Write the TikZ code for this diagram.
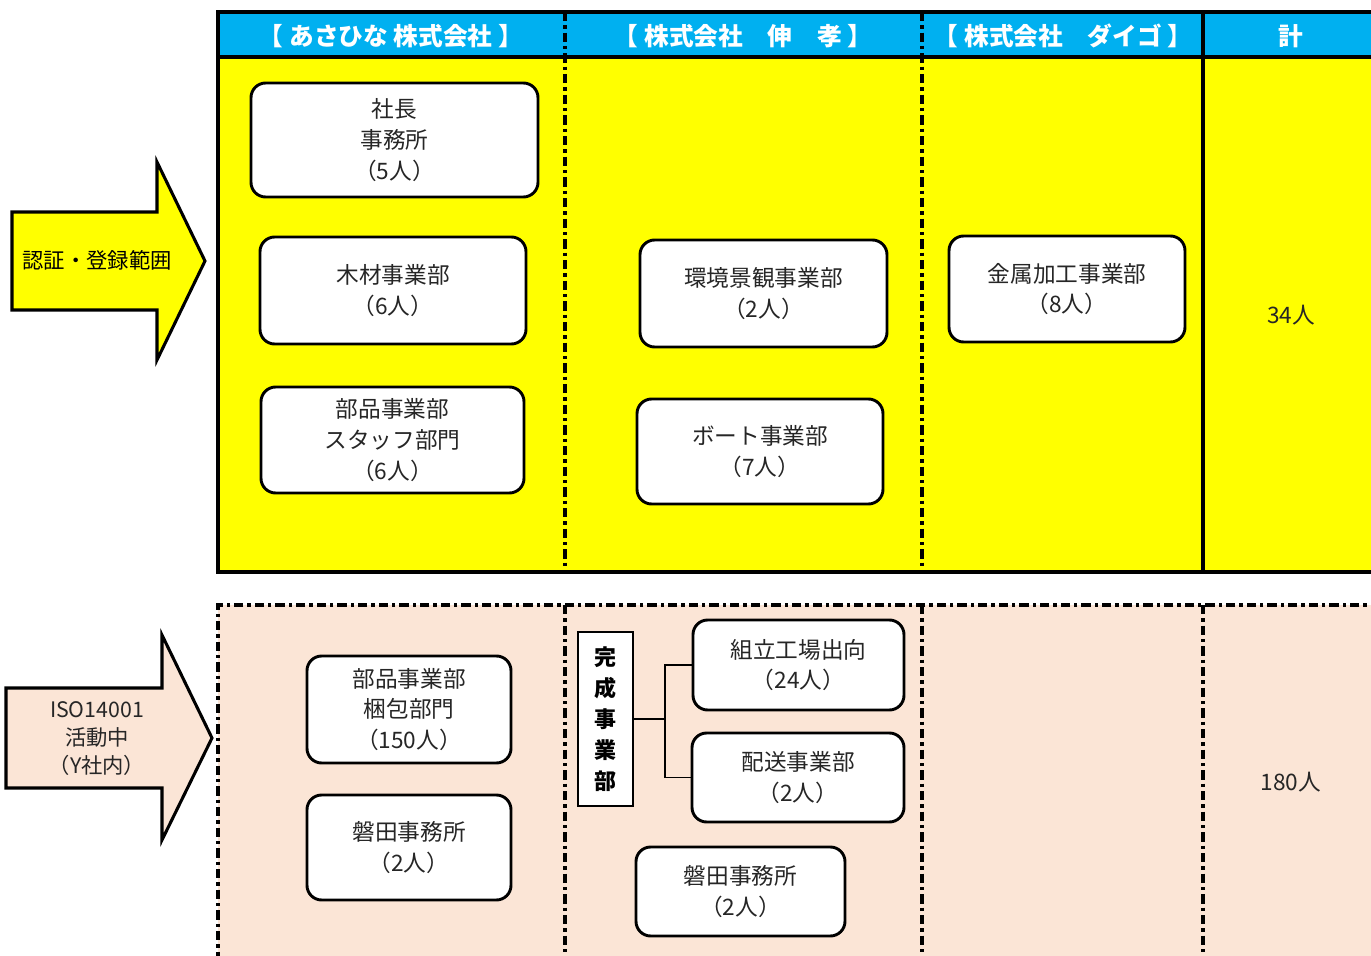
\documentclass[tikz,border=0pt]{standalone}
\usepackage{fontspec}
\setmainfont{Noto Sans CJK JP}
\usetikzlibrary{fit}
\definecolor{hdr}{HTML}{00B0F0}
\definecolor{ylw}{HTML}{FFFF00}
\definecolor{peach}{HTML}{FBE5D6}
\definecolor{txt}{HTML}{262626}
\begin{document}
\begin{tikzpicture}[x=0.75pt,y=-0.75pt,
  font=\fontsize{17}{23}\selectfont,
  box/.style={draw, line width=2.2pt, rounded corners=11pt, fill=white, align=center, inner sep=0pt, text=txt},
  frame/.style={line width=3pt},
  dd/.style={line width=2.6pt, dash pattern=on 7pt off 3pt on 2.5pt off 3pt},
  hdrtext/.style={text=white, font=\fontsize{18.5}{22}\bfseries\selectfont},
  conn/.style={line width=0.8pt}]
\useasboundingbox (0,0) rectangle (1371,956);

% ---------- top region ----------
\fill[ylw] (218,12) rectangle (1380,572);
\fill[hdr] (218,12) rectangle (1380,57);
\draw[dd] (565,12) -- (565,572);
\draw[dd] (922,12) -- (922,572);
\draw[frame] (1203,12) -- (1203,572);
\draw[frame] (1380,12) -- (218,12) -- (218,572) -- (1380,572);
\draw[frame] (218,57) -- (1380,57);

\node[hdrtext] (h1) at (391,36) {【\hspace{0.25em}あさひな 株式会社\hspace{0.25em}】};
\node[hdrtext] (h2) at (743,36) {【\hspace{0.25em}株式会社　伸　孝\hspace{0.25em}】};
\node[hdrtext] (h3) at (1063,36) {【\hspace{0.25em}株式会社　ダイゴ\hspace{0.25em}】};
\node[hdrtext] (h4) at (1291,36) {計};

\node[box, fit={(251,83) (538,197)}] (b1) {};
\node[text=txt, align=center] (b1t) at (b1.center) {社長\\事務所\\（5人）};
\node[box, fit={(260,237) (526,344)}] (b2) {};
\node[text=txt, align=center] (b2t) at (b2.center) {木材事業部\\（6人）};
\node[box, fit={(261,387) (524,493)}] (b3) {};
\node[text=txt, align=center] (b3t) at (b3.center) {部品事業部\\スタッフ部門\\（6人）};
\node[box, fit={(640,240) (887,347)}] (b4) {};
\node[text=txt, align=center] (b4t) at (b4.center) {環境景観事業部\\（2人）};
\node[box, fit={(637,399) (883,504)}] (b5) {};
\node[text=txt, align=center] (b5t) at (b5.center) {ボート事業部\\（7人）};
\node[box, fit={(949,236) (1185,342)}] (b6) {};
\node[text=txt, align=center] (b6t) at (b6.center) {金属加工事業部\\（8人）};
\node[text=txt] (t1) at (1291,315) {34人};

% ---------- bottom region ----------
\fill[peach] (218,605) rectangle (1380,962);
\draw[dd] (1380,605) -- (218,605) -- (218,962);
\draw[dd] (565,605) -- (565,962);
\draw[dd] (922,605) -- (922,962);
\draw[dd] (1203,605) -- (1203,962);

\node[box, fit={(307,656) (511,763)}] (c1) {};
\node[text=txt, align=center] (c1t) at (c1.center) {部品事業部\\梱包部門\\（150人）};
\node[box, fit={(307,795) (511,900)}] (c2) {};
\node[text=txt, align=center] (c2t) at (c2.center) {磐田事務所\\（2人）};

\node[draw, line width=2pt, fill=white, inner sep=0pt, fit={(578,632) (633,806)}] (k) {};
\node[align=center, font=\fontsize{16.5}{23.2}\bfseries\selectfont] (kt) at (k.center) {完\\成\\事\\業\\部};

\node[box, fit={(693,620) (904,710)}] (c3) {};
\node[text=txt, align=center] (c3t) at (c3.center) {組立工場出向\\（24人）};
\node[box, fit={(692,733) (904,822)}] (c4) {};
\node[text=txt, align=center] (c4t) at (c4.center) {配送事業部\\（2人）};
\node[box, fit={(636,847) (845,936)}] (c5) {};
\node[text=txt, align=center] (c5t) at (c5.center) {磐田事務所\\（2人）};
\node[text=txt] (t2) at (1291,782) {180人};

\coordinate (j) at (665,719);
\draw[conn] (k.east) -- (j);
\draw[conn] (c3.west) -| (j) |- (c4.west);

% ---------- arrows ----------
\draw[line width=2.3pt, fill=ylw, line join=miter]
  (12,212) -- (157,212) -- (157,162) -- (205,261) -- (157,360) -- (157,310) -- (12,310) -- cycle;
\node[font=\fontsize{16}{20}\selectfont] (a1) at (97,260) {認証・登録範囲};

\draw[line width=2.3pt, fill=peach, line join=miter]
  (6,688) -- (162,688) -- (162,635) -- (212,738) -- (162,840) -- (162,788) -- (6,788) -- cycle;
\node[align=center, text=txt, font=\fontsize{16}{21}\selectfont] (a2) at (97,739) {ISO14001\\活動中\\（Y社内）};
\end{tikzpicture}
\end{document}
